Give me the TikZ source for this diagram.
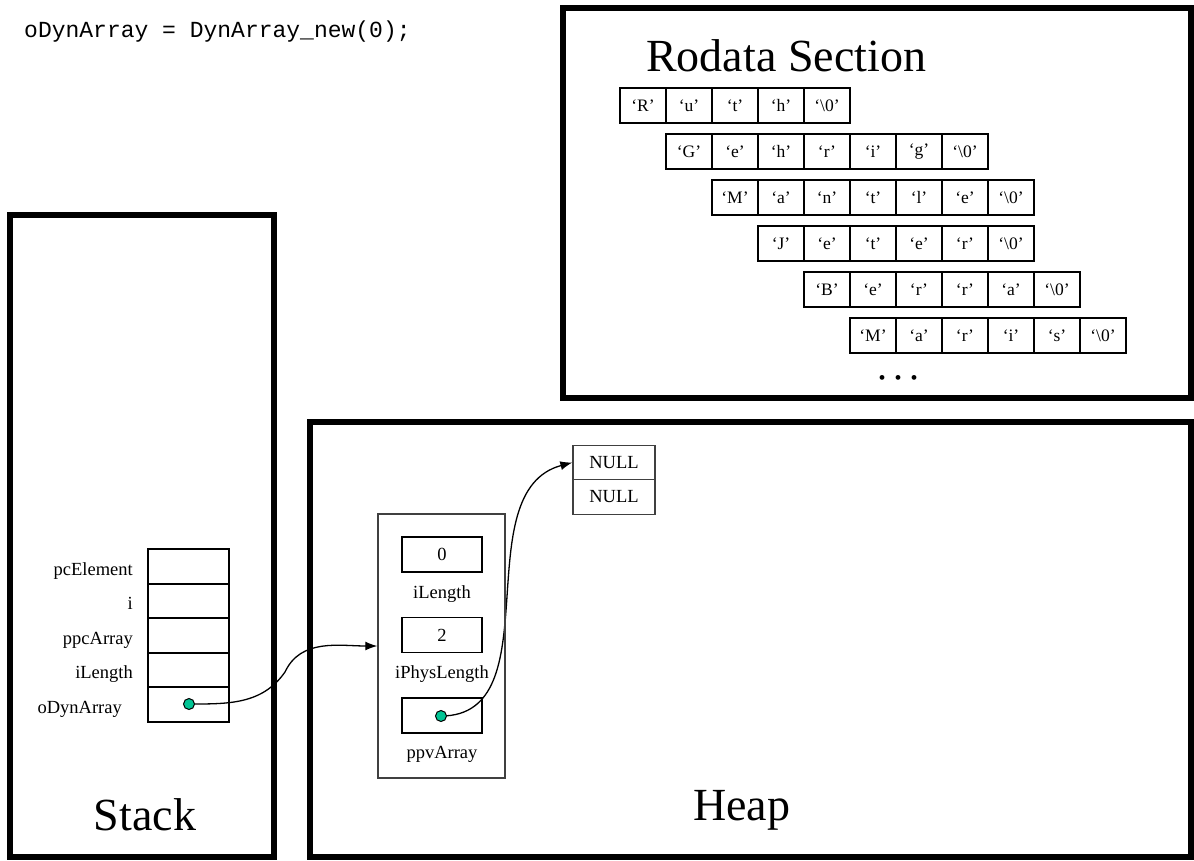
\documentclass[tikz,border=0pt]{standalone}
\usepackage{fontspec}
\setmainfont{Liberation Serif}
\setmonofont{Liberation Mono}
\usetikzlibrary{arrows.meta}
\pgfdeclarelayer{edgelayer}
\pgfdeclarelayer{nodelayer}
\pgfsetlayers{edgelayer,nodelayer,main}
\definecolor{dotgreen}{RGB}{0,196,148}
\tikzstyle{segment}=[draw=black,line width=5.5pt]
\tikzstyle{charcell}=[rectangle,draw=black,line width=1.5pt,minimum width=46pt,minimum height=35pt,inner sep=0pt,font=\fontsize{17.5}{17.5}\selectfont]
\tikzstyle{slot}=[rectangle,draw=black,line width=1.6pt,minimum width=81pt,minimum height=34.5pt,inner sep=0pt]
\tikzstyle{field}=[rectangle,draw=black,line width=1.8pt,minimum width=80pt,minimum height=35pt,inner sep=0pt,font=\fontsize{18.5}{18.5}\selectfont]
\tikzstyle{nullcell}=[rectangle,draw=black!75,line width=1.3pt,minimum width=82pt,minimum height=34.5pt,inner sep=0pt,font=\fontsize{18.5}{18.5}\selectfont]
\tikzstyle{structbox}=[rectangle,draw=black!75,line width=1.4pt,minimum width=127pt,minimum height=264pt,inner sep=0pt]
\tikzstyle{fieldname}=[inner sep=0pt,font=\fontsize{18.5}{18.5}\selectfont]
\tikzstyle{heading}=[inner sep=0pt,font=\fontsize{46}{46}\selectfont]
\tikzstyle{ptrdot}=[circle,fill=dotgreen,draw=black,line width=1pt,minimum size=11pt,inner sep=0pt]
\tikzstyle{ptrarrow}=[-{Latex[length=12pt,width=9pt]},draw=black,line width=1.3pt]

\begin{document}
\begin{tikzpicture}[x=1pt,y=1pt]
	\useasboundingbox (0,0) rectangle (1194,-860);
	\begin{pgfonlayer}{edgelayer}
		\draw [style=segment] (563,-8) rectangle (1191,-398);
		\draw [style=segment] (10,-215) rectangle (274,-857);
		\draw [style=segment] (310,-422) rectangle (1191,-857);
	\end{pgfonlayer}
	\begin{pgfonlayer}{nodelayer}
		\node [inner sep=0pt, anchor=base west, font=\ttfamily\fontsize{23}{23}\selectfont] (0) at (24,-37) {oDynArray = DynArray\_new(0);};
		\node [style=heading, anchor=base west] (1) at (646,-71) {Rodata Section};
		\node [style=heading, anchor=base] (2) at (145,-830) {Stack};
		\node [style=heading, anchor=base west] (3) at (693,-820) {Heap};

		\node [style=charcell] (10) at (643,-105.5) {‘R’};
		\node [style=charcell] (11) at (689,-105.5) {‘u’};
		\node [style=charcell] (12) at (735,-105.5) {‘t’};
		\node [style=charcell] (13) at (781,-105.5) {‘h’};
		\node [style=charcell] (14) at (827,-105.5) {‘\textbackslash0’};

		\node [style=charcell] (15) at (689,-151.5) {‘G’};
		\node [style=charcell] (16) at (735,-151.5) {‘e’};
		\node [style=charcell] (17) at (781,-151.5) {‘h’};
		\node [style=charcell] (18) at (827,-151.5) {‘r’};
		\node [style=charcell] (19) at (873,-151.5) {‘i’};
		\node [style=charcell] (20) at (919,-151.5) {‘g’};
		\node [style=charcell] (21) at (965,-151.5) {‘\textbackslash0’};

		\node [style=charcell] (22) at (735,-197.5) {‘M’};
		\node [style=charcell] (23) at (781,-197.5) {‘a’};
		\node [style=charcell] (24) at (827,-197.5) {‘n’};
		\node [style=charcell] (25) at (873,-197.5) {‘t’};
		\node [style=charcell] (26) at (919,-197.5) {‘l’};
		\node [style=charcell] (27) at (965,-197.5) {‘e’};
		\node [style=charcell] (28) at (1011,-197.5) {‘\textbackslash0’};

		\node [style=charcell] (29) at (781,-243.5) {‘J’};
		\node [style=charcell] (30) at (827,-243.5) {‘e’};
		\node [style=charcell] (31) at (873,-243.5) {‘t’};
		\node [style=charcell] (32) at (919,-243.5) {‘e’};
		\node [style=charcell] (33) at (965,-243.5) {‘r’};
		\node [style=charcell] (34) at (1011,-243.5) {‘\textbackslash0’};

		\node [style=charcell] (35) at (827,-289.5) {‘B’};
		\node [style=charcell] (36) at (873,-289.5) {‘e’};
		\node [style=charcell] (37) at (919,-289.5) {‘r’};
		\node [style=charcell] (38) at (965,-289.5) {‘r’};
		\node [style=charcell] (39) at (1011,-289.5) {‘a’};
		\node [style=charcell] (40) at (1057,-289.5) {‘\textbackslash0’};

		\node [style=charcell] (41) at (873,-335.5) {‘M’};
		\node [style=charcell] (42) at (919,-335.5) {‘a’};
		\node [style=charcell] (43) at (965,-335.5) {‘r’};
		\node [style=charcell] (44) at (1011,-335.5) {‘i’};
		\node [style=charcell] (45) at (1057,-335.5) {‘s’};
		\node [style=charcell] (46) at (1103,-335.5) {‘\textbackslash0’};

		\node [inner sep=0pt, anchor=base, font=\fontsize{20}{20}\selectfont] (47) at (898,-384) {•\hspace{9pt}•\hspace{9pt}•};

		\node [style=slot] (50) at (188.5,-566.5) {};
		\node [style=slot] (51) at (188.5,-601) {};
		\node [style=slot] (52) at (188.5,-635.5) {};
		\node [style=slot] (53) at (188.5,-670) {};
		\node [style=slot] (54) at (188.5,-704.5) {};
		\node [style=fieldname, anchor=base east] (55) at (133,-575) {pcElement};
		\node [style=fieldname, anchor=base east] (56) at (133,-609.5) {i};
		\node [style=fieldname, anchor=base east] (57) at (133,-644) {ppcArray};
		\node [style=fieldname, anchor=base east] (58) at (133,-678.5) {iLength};
		\node [style=fieldname, anchor=base east] (59) at (122,-713) {oDynArray};
		\node [style=ptrdot] (60) at (189,-704) {};

		\node [style=structbox] (70) at (441.5,-646) {};
		\node [style=field] (71) at (442,-554.5) {0};
		\node [style=field] (72) at (442,-635) {2};
		\node [style=field] (73) at (442,-715.5) {};
		\node [style=fieldname, anchor=base] (74) at (442,-598) {iLength};
		\node [style=fieldname, anchor=base] (75) at (442,-678) {iPhysLength};
		\node [style=fieldname, anchor=base] (76) at (442,-758) {ppvArray};
		\node [style=ptrdot] (77) at (441,-716) {};

		\node [style=nullcell] (80) at (614,-462.5) {NULL};
		\node [style=nullcell] (81) at (614,-497) {NULL};
	\end{pgfonlayer}
	\begin{pgfonlayer}{edgelayer}
		\coordinate (90) at (285,-672);
		\draw [style=ptrarrow] (60.center) to[out=0, in=-125] (90) to[out=65, in=180] (70.west);
		\draw [style=ptrarrow] (77.center) to[out=0, in=195] (80.west);
	\end{pgfonlayer}
\end{tikzpicture}
\end{document}
